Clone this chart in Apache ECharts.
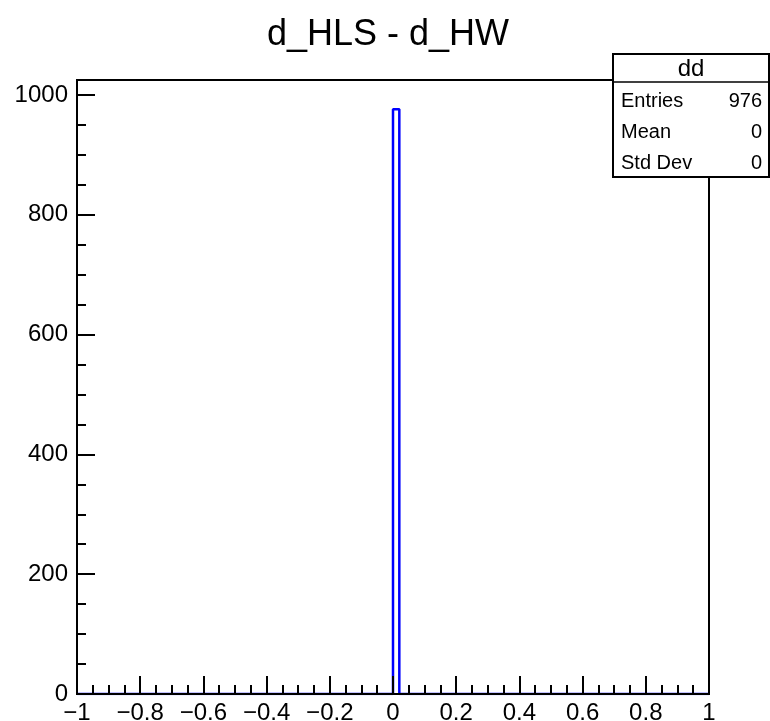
<!DOCTYPE html>
<html>
<head>
<meta charset="utf-8">
<script src="https://cdn.jsdelivr.net/npm/echarts@6/dist/echarts.min.js"></script>
<style>html,body{margin:0;padding:0;background:#fff}#c{width:770px;height:721px}</style>
</head>
<body>
<div id="c"></div>
<script>
const title = 'd_HLS - d_HW';
const histName = 'dd';
const xMin = -1, xMax = 1, nBins = 100;
const counts = [
  0,0,0,0,0,0,0,0,0,0, 0,0,0,0,0,0,0,0,0,0,
  0,0,0,0,0,0,0,0,0,0, 0,0,0,0,0,0,0,0,0,0,
  0,0,0,0,0,0,0,0,0,0, 976,0,0,0,0,0,0,0,0,0,
  0,0,0,0,0,0,0,0,0,0, 0,0,0,0,0,0,0,0,0,0,
  0,0,0,0,0,0,0,0,0,0, 0,0,0,0,0,0,0,0,0,0
];
const statLabels = ['Entries', 'Mean', 'Std Dev'];
const statValues = ['976', '0', '0'];
const yMax = 1025;

const bw = (xMax - xMin) / nBins;
const stepPts = [];
counts.forEach((c, i) => {
  const lo = +(xMin + i * bw).toFixed(6), hi = +(xMin + (i + 1) * bw).toFixed(6);
  stepPts.push([lo, c], [hi, c]);
});

const FONT = 'Liberation Sans, Arial, Helvetica, sans-serif';
const fmt = v => {
  const r = Math.round(v * 1000) / 1000;
  return String(r).replace('-', '\u2212');
};

const chart = echarts.init(document.getElementById('c'), null, {renderer: 'canvas'});
const boxX = 613, boxY = 54, boxW = 156, boxH = 123, headH = 28;
const graphics = [
  {type: 'rect', shape: {x: boxX, y: boxY, width: boxW, height: boxH}, style: {fill: '#fff', stroke: '#000', lineWidth: 2}, z: 100},
  {type: 'line', shape: {x1: boxX, y1: boxY + headH, x2: boxX + boxW, y2: boxY + headH}, style: {stroke: '#000', lineWidth: 1.5}, z: 101},
  {type: 'text', x: boxX + boxW / 2, y: boxY + headH / 2 + 1, style: {text: histName, font: '24px ' + FONT, fill: '#000', align: 'center', verticalAlign: 'middle'}, z: 101}
];
statLabels.forEach((l, i) => {
  const yy = boxY + headH + 19 + i * 31;
  graphics.push({type: 'text', x: boxX + 8, y: yy, style: {text: l, font: '20px ' + FONT, fill: '#000', align: 'left', verticalAlign: 'middle'}, z: 101});
  graphics.push({type: 'text', x: boxX + boxW - 7, y: yy, style: {text: statValues[i], font: '20px ' + FONT, fill: '#000', align: 'right', verticalAlign: 'middle'}, z: 101});
});

chart.setOption({
  animation: false,
  backgroundColor: '#fff',
  title: {text: title, left: 383, top: 12, textAlign: 'center', textStyle: {fontFamily: FONT, fontSize: 36, fontWeight: 'normal', color: '#000'}},
  grid: {left: 77, right: 61, top: 80, bottom: 27, containLabel: false, outerBoundsMode: 'none', show: true, borderColor: '#000', borderWidth: 2, backgroundColor: 'transparent'},
  xAxis: {
    type: 'value', min: xMin, max: xMax, interval: 0.2, z: 5,
    axisLine: {show: true, onZero: false, lineStyle: {color: '#000', width: 2}},
    axisTick: {show: true, inside: true, length: 18, lineStyle: {color: '#000', width: 2}},
    minorTick: {show: true, splitNumber: 4, length: 9, lineStyle: {color: '#000', width: 2}},
    splitLine: {show: false},
    axisLabel: {formatter: fmt, fontFamily: FONT, fontSize: 24, color: '#000', margin: 7}
  },
  yAxis: [{
    type: 'value', min: 0, max: yMax, interval: 200, z: 5,
    axisLine: {show: true, onZero: false, lineStyle: {color: '#000', width: 2}},
    axisTick: {show: true, inside: true, length: 18, lineStyle: {color: '#000', width: 2}},
    splitLine: {show: false},
    axisLabel: {showMaxLabel: false, formatter: v => String(v), fontFamily: FONT, fontSize: 24, color: '#000', margin: 9}
  }, {
    type: 'value', min: 0, max: yMax, interval: 50, position: 'left', z: 5,
    axisLine: {show: false, onZero: false},
    axisTick: {show: true, inside: true, length: 9, lineStyle: {color: '#000', width: 2}},
    splitLine: {show: false},
    axisLabel: {show: false}
  }],
  series: [{
    type: 'line', data: stepPts, yAxisIndex: 0, symbol: 'none', z: 2,
    lineStyle: {color: '#0000ff', width: 2.5}, clip: true
  }],
  graphic: graphics
});
</script>
</body>
</html>
